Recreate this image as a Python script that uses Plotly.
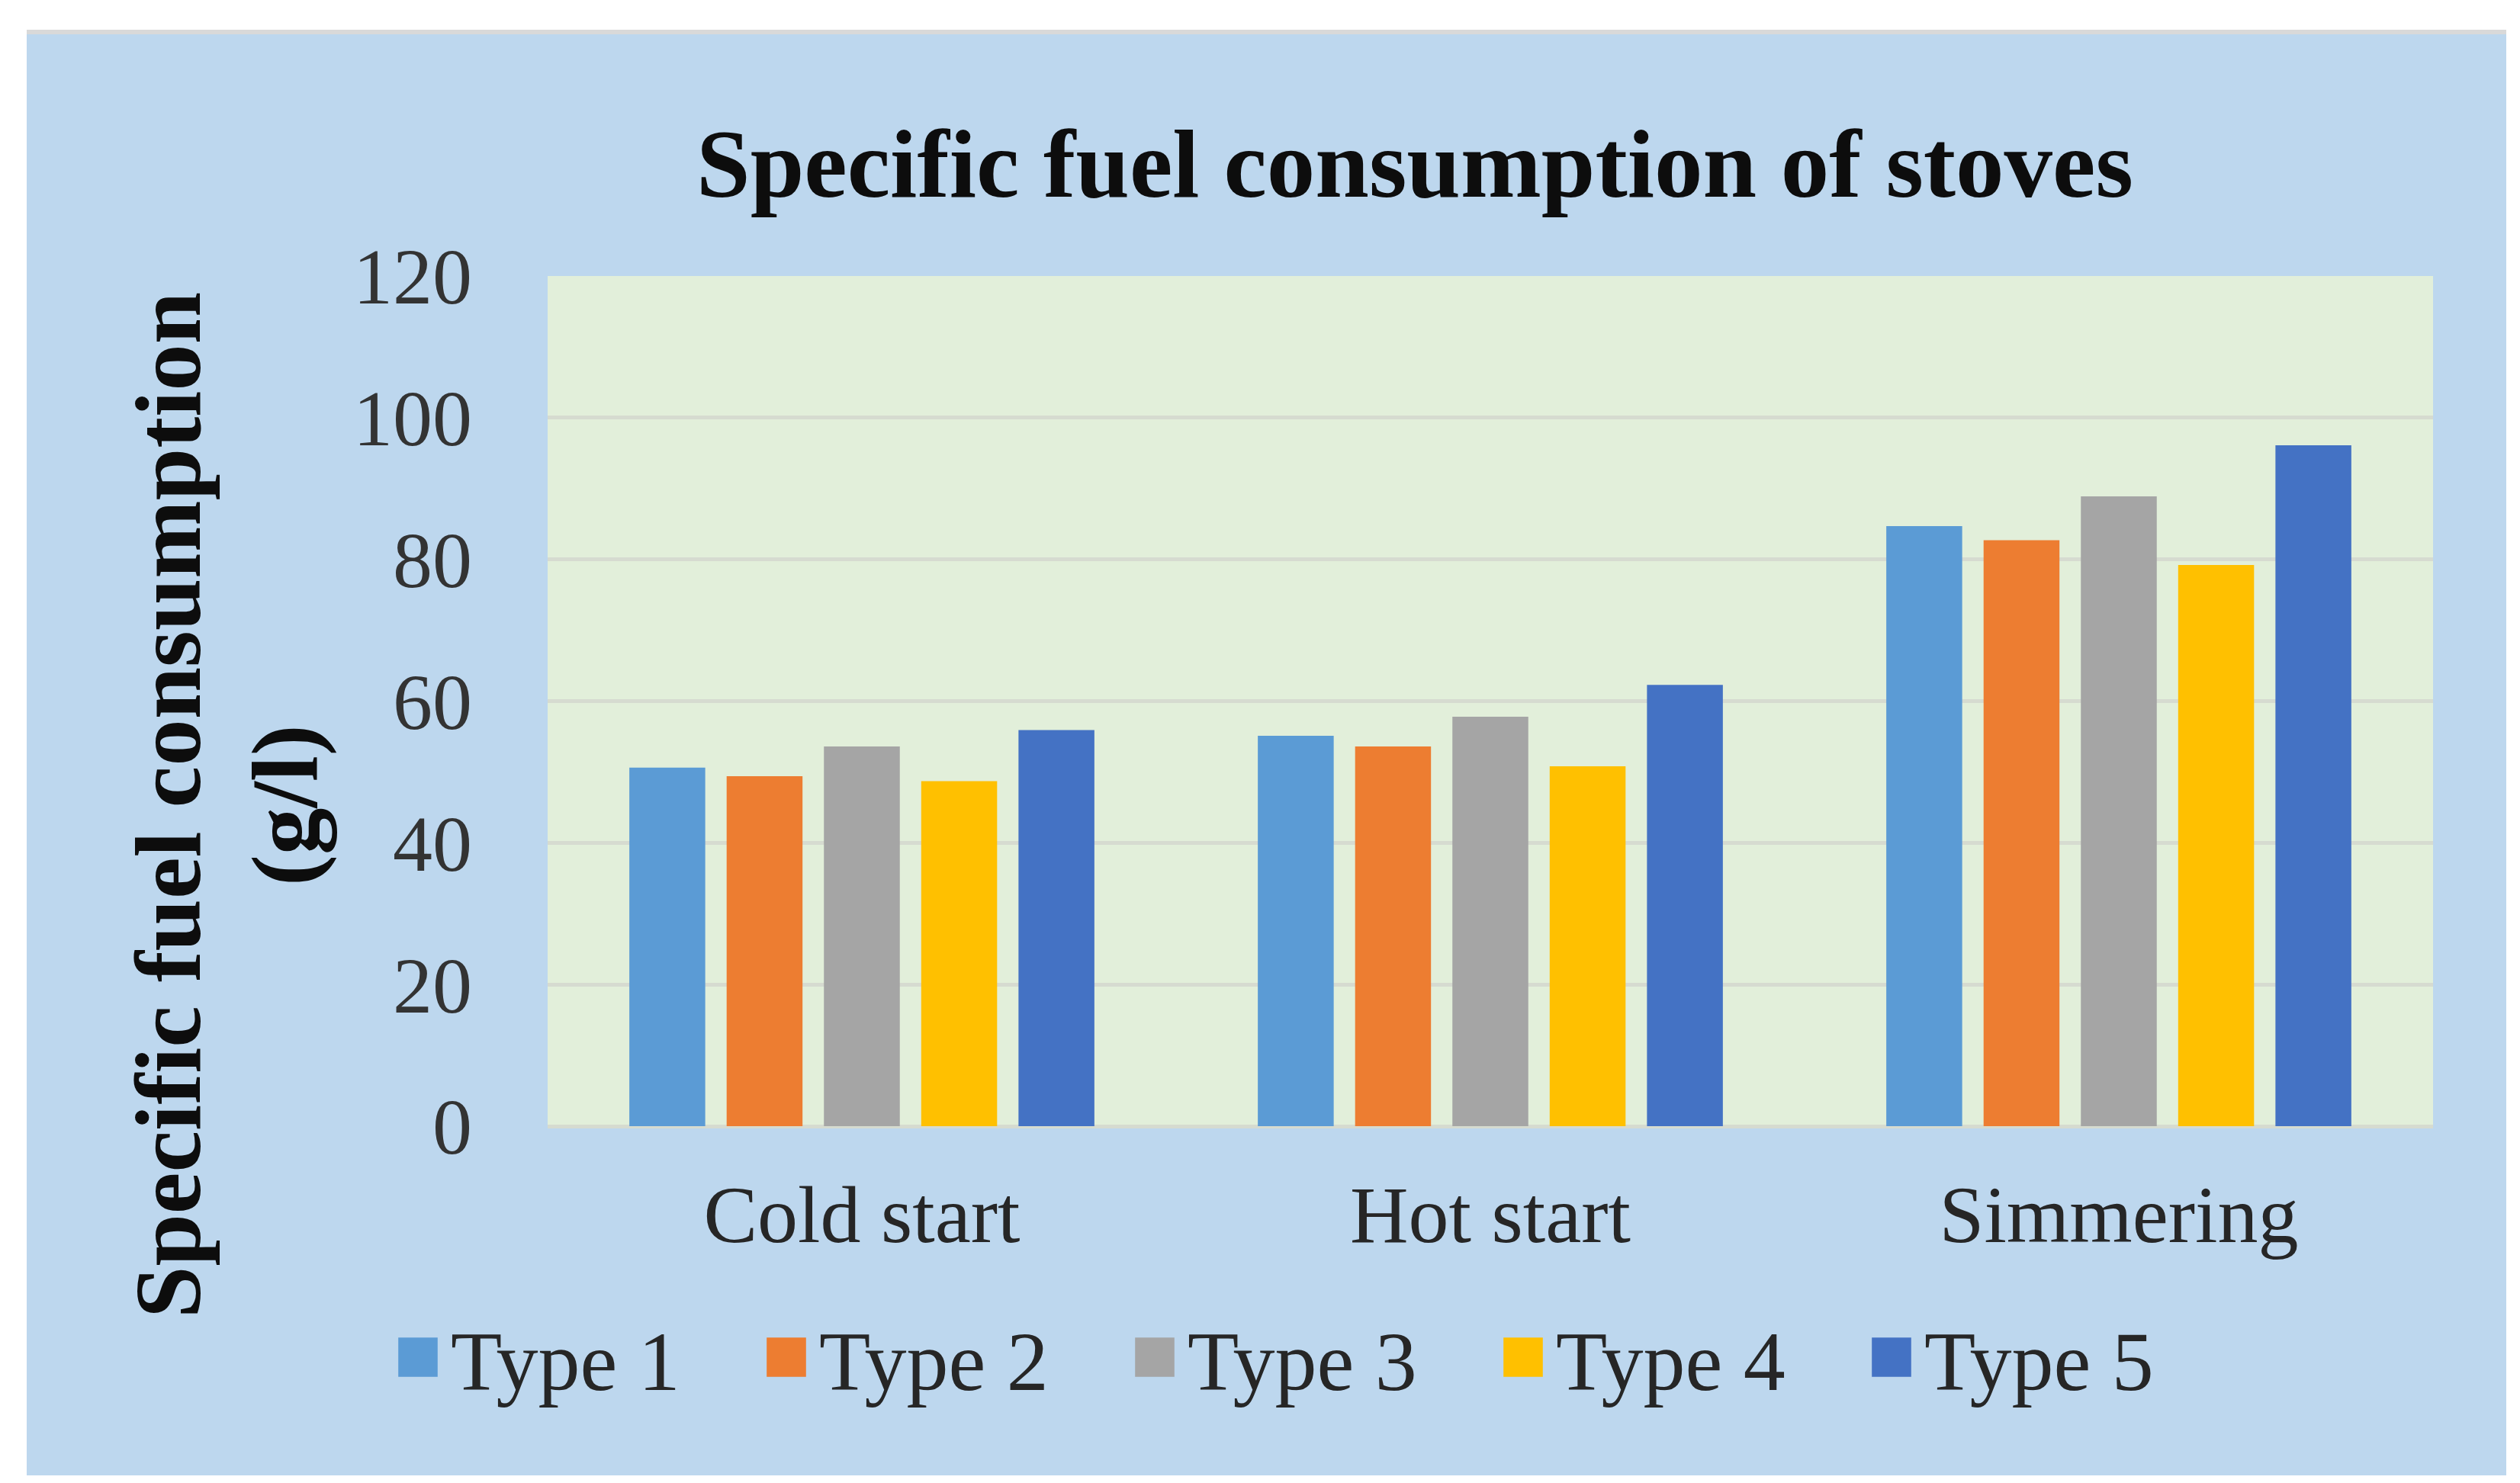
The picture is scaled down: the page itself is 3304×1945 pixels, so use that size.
import plotly.graph_objects as go

categories = ["Cold start", "Hot start", "Simmering"]
series_names = ["Type 1", "Type 2", "Type 3", "Type 4", "Type 5"]
type1 = [50.6, 55.1, 84.7]
type2 = [49.4, 53.6, 82.7]
type3 = [53.6, 57.8, 88.9]
type4 = [48.7, 50.8, 79.2]
type5 = [55.9, 62.3, 96.1]
y_ticks = [0, 20, 40, 60, 80, 100, 120]

colors = ["#5B9BD5", "#ED7D31", "#A5A5A5", "#FFC000", "#4472C4"]
series_values = [type1, type2, type3, type4, type5]

W, H = 3304, 1945
L, R, T, B = 710, 122, 354, 476
pw, ph = W - L - R, H - T - B

def px(xa):
    return (xa - L) / pw

def py(ya):
    return (H - B - ya) / ph

fig = go.Figure()
for name, vals, c in zip(series_names, series_values, colors):
    fig.add_trace(go.Bar(name=name, x=categories, y=vals, marker=dict(color=c, line=dict(width=0))))

serif = "Liberation Serif, Times New Roman, serif"

fig.update_layout(
    width=W, height=H,
    margin=dict(l=L, r=R, t=T, b=B, autoexpand=False),
    paper_bgcolor="white",
    plot_bgcolor="rgba(0,0,0,0)",
    barmode="group",
    bargap=0.226,
    bargroupgap=0.22,
    font=dict(family=serif, color="#262626"),
    title=dict(
        text="<b>Specific fuel consumption of stoves</b>",
        font=dict(family=serif, size=127, color="#0d0d0d"),
        x=1847 / W, xref="container", xanchor="center",
        y=1 - 206 / H, yref="container", yanchor="middle",
    ),
    xaxis=dict(
        showgrid=False, showline=False, zeroline=False,
        tickfont=dict(family=serif, size=106, color="#262626"),
        ticklabelstandoff=45,
    ),
    yaxis=dict(
        range=[0, 120], tickvals=y_ticks,
        showgrid=True, gridcolor="#D6DBD0", gridwidth=5,
        zeroline=True, zerolinecolor="#D6DBD0", zerolinewidth=5,
        showline=False,
        tickfont=dict(family=serif, size=104, color="#333333"),
        ticklabelstandoff=98,
    ),
    showlegend=True,
    legend=dict(
        orientation="h",
        xref="container", yref="container",
        x=507 / W, xanchor="left",
        y=1 - 1772 / H, yanchor="middle",
        font=dict(family=serif, size=110, color="#262626"),
        bgcolor="rgba(0,0,0,0)",
        itemwidth=66,
        entrywidth=402, entrywidthmode="pixels",
        traceorder="normal",
    ),
    shapes=[
        dict(type="rect", xref="paper", yref="paper", layer="below",
             x0=px(27), x1=px(3278), y0=py(1927), y1=py(37),
             fillcolor="#BDD7EE", line=dict(width=0)),
        dict(type="rect", xref="paper", yref="paper", layer="below",
             x0=px(27), x1=px(3278), y0=py(37), y1=py(31),
             fillcolor="#D9D9D9", line=dict(width=0)),
        dict(type="rect", xref="paper", yref="paper", layer="below",
             x0=0, x1=1, y0=0, y1=1,
             fillcolor="#E2EFDA", line=dict(width=0)),
    ],
    annotations=[
        dict(
            text="<b>Specific fuel consumption</b>",
            xref="paper", yref="paper",
            x=px(212), y=py(1048),
            xanchor="center", yanchor="middle",
            textangle=-90, showarrow=False,
            font=dict(family=serif, size=123, color="#0d0d0d"),
        ),
        dict(
            text="<b>(g/l)</b>",
            xref="paper", yref="paper",
            x=px(365), y=py(1048),
            xanchor="center", yanchor="middle",
            textangle=-90, showarrow=False,
            font=dict(family=serif, size=123, color="#0d0d0d"),
        ),
    ],
)

post = """
var gd = document.getElementById('{plot_id}');
function fix(){
  gd.querySelectorAll('.legend .legendpoints path').forEach(function(p){
    p.setAttribute('transform','translate(33,0) scale(4.3)');
  });
}
fix();
gd.on('plotly_afterplot', fix);
"""

fig.write_html("out.html", post_script=post)
